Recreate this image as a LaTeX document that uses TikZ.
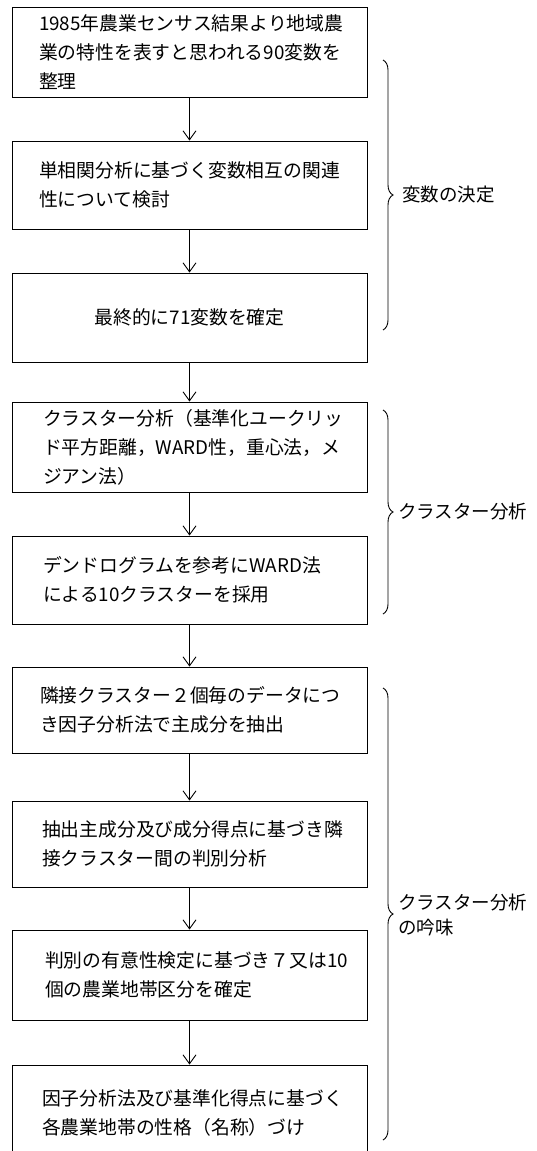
\documentclass[tikz,border=0pt]{standalone}
\usepackage{fontspec}
\setmainfont{Noto Sans CJK JP}
\usetikzlibrary{arrows.meta,decorations.pathreplacing}
\tikzset{
  box/.style 2 args={draw, line width=0.9pt, inner ysep=0pt, inner xsep=#1,
    text width=#2, align=left, minimum height=80pt,
    font=\fontsize{18.8pt}{29pt}\selectfont},
  cbox/.style={draw, line width=0.9pt, inner sep=0pt, text width=355pt,
    align=center, font=\fontsize{18.8pt}{29pt}\selectfont},
  arr/.style={line width=0.9pt, -{Straight Barb[length=9pt,width=13pt,line width=0.9pt]}},
  brc/.style={line width=0.9pt, decorate, decoration={brace, amplitude=10pt, aspect=0.5}},
  lbl/.style={anchor=west, inner sep=0pt, align=left,
    font=\fontsize{18.5pt}{25pt}\selectfont}
}
\begin{document}
\begin{tikzpicture}[x=1pt,y=-1pt]
\clip (0,0) rectangle (537,1151);
\fill[white] (0,0) rectangle (537,1151);

\node[box={27pt}{301pt}, minimum height=90pt] (b1) at (189.5,52)
  {1985年農業センサス結果より地域農\\業の特性を表すと思われる90変数を\\整理};
\node[box={27pt}{301pt}, minimum height=88pt] (b2) at (189.5,185)
  {単相関分析に基づく変数相互の関連\\性について検討};
\node[cbox, minimum height=89pt] (b3) at (189.5,317.5)
  {最終的に71変数を確定};
\node[box={31pt}{293pt}, minimum height=90pt] (b4) at (189.5,447)
  {クラスター分析（基準化ユークリッ\\ド平方距離，WARD性，重心法，メ\\ジアン法）};
\node[box={31pt}{293pt}, minimum height=88pt] (b5) at (189.5,580)
  {デンドログラムを参考にWARD法\\による10クラスターを採用};
\node[box={28pt}{299pt}, minimum height=86pt] (b6) at (189.5,710)
  {隣接クラスター２個毎のデータにつ\\き因子分析法で主成分を抽出};
\node[box={30pt}{295pt}, minimum height=86pt] (b7) at (189.5,844)
  {抽出主成分及び成分得点に基づき隣\\接クラスター間の判別分析};
\node[box={33pt}{289pt}, minimum height=90pt] (b8) at (189.5,975)
  {判別の有意性検定に基づき７又は10\\個の農業地帯区分を確定};
\node[box={30pt}{295pt}, minimum height=96pt] (b9) at (189.5,1113)
  {因子分析法及び基準化得点に基づく\\各農業地帯の性格（名称）づけ};

\draw[arr] (b1.south) -- (b2.north);
\draw[arr] (b2.south) -- (b3.north);
\draw[arr] (b3.south) -- (b4.north);
\draw[arr] (b4.south) -- (b5.north);
\draw[arr] (b5.south) -- (b6.north);
\draw[arr] (b6.south) -- (b7.north);
\draw[arr] (b7.south) -- (b8.north);
\draw[arr] (b8.south) -- (b9.north);

\coordinate (r1a) at (383,60);
\coordinate (r1b) at (383,330);
\coordinate (r2a) at (383,410);
\coordinate (r2b) at (383,614);
\coordinate (r3a) at (383,688);
\coordinate (r3b) at (383,1140);
\draw[brc] (r1a) -- (r1b);
\draw[brc] (r2a) -- (r2b);
\draw[brc] (r3a) -- (r3b);

\node[lbl] (l1) at (402,195) {変数の決定};
\node[lbl] (l2) at (398,512) {クラスター分析};
\node[lbl] (l3) at (398,915) {クラスター分析\\の吟味};
\end{tikzpicture}
\end{document}
